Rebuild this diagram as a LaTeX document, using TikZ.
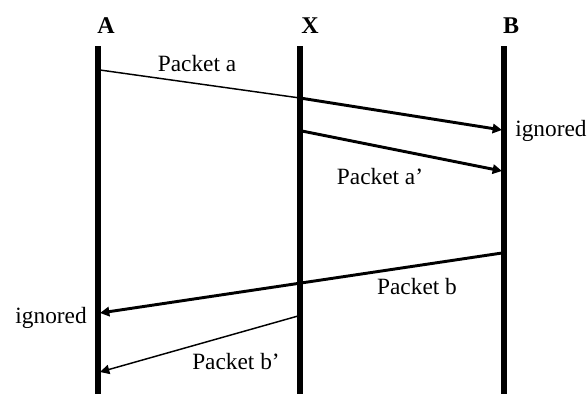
\documentclass[tikz,border=0pt]{standalone}
\usepackage{fontspec}
\setmainfont{Liberation Serif}
\usetikzlibrary{arrows.meta, positioning}
\tikzstyle{lifeline} = [line width=4.5pt]
\tikzstyle{party} = [font=\fontsize{18}{18}\selectfont\bfseries, inner sep=0pt]
\tikzstyle{label} = [font=\fontsize{17.5}{17.5}\selectfont, inner sep=0pt]
\tikzstyle{msg} = [line width=2.2pt,-{Triangle[length=7pt,width=7pt]}]
\tikzstyle{weakmsg} = [line width=1.1pt,-{Triangle[length=7pt,width=7pt]}]

\begin{document}
\begin{tikzpicture}[x=0.75pt, y=-0.75pt]
\useasboundingbox (0,0) rectangle (588,394);

% Parties
\node (A) [party] at (106,26) {A};
\node (X) [party] at (310,26) {X};
\node (B) [party] at (511,26) {B};

% Lifelines
\coordinate (Atop) at (98,46);  \coordinate (Abot) at (98,394);
\coordinate (Xtop) at (300,46); \coordinate (Xbot) at (300,394);
\coordinate (Btop) at (504,46); \coordinate (Bbot) at (504,394);
\draw [lifeline] (Atop) -- (Abot);
\draw [lifeline] (Xtop) -- (Xbot);
\draw [lifeline] (Btop) -- (Bbot);

% Message end points
\coordinate (a1) at (100,70);  \coordinate (a2) at (300,98);  \coordinate (a3) at (502,130);
\coordinate (a4) at (302,131); \coordinate (a5) at (502,171);
\coordinate (b1) at (502,253); \coordinate (b2) at (100,313);
\coordinate (b3) at (298,316); \coordinate (b4) at (100,372);

% Arrows
\draw [line width=1.1pt] (a1) -- (a2);
\draw [msg] (a2) -- (a3);
\draw [msg] (a4) -- (a5);
\draw [msg] (b1) -- (b2);
\draw [weakmsg] (b3) -- (b4);

% Labels
\node (la)  [label] at (197,64)  {Packet a};
\node (la2) [label] at (380,177) {Packet a'};
\node (lb)  [label] at (417,287) {Packet b};
\node (lb2) [label] at (236,362) {Packet b'};
\node (ignB) [label, anchor=west] at (515,131) {ignored};
\node (ignA) [label, anchor=east] at (87,318) {ignored};

\end{tikzpicture}
\end{document}
